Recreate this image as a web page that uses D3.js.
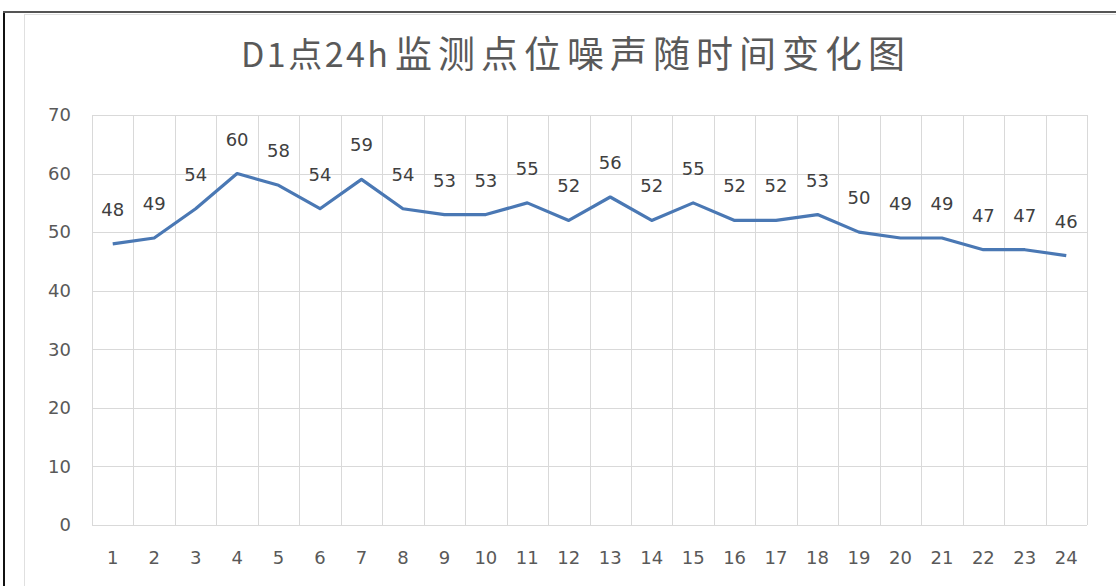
<!DOCTYPE html>
<html><head><meta charset="utf-8">
<script src="https://cdn.jsdelivr.net/npm/d3@7"></script>
<style>body{margin:0;background:#fff;}svg{display:block;}</style>
</head><body>
<svg id="c" width="1116" height="586"></svg>
<script>
const categories = ["1","2","3","4","5","6","7","8","9","10","11","12","13","14","15","16","17","18","19","20","21","22","23","24"];
const values = [48,49,54,60,58,54,59,54,53,53,55,52,56,52,55,52,52,53,50,49,49,47,47,46];
const yTicks = [0,10,20,30,40,50,60,70];
const titleA = "D1点24h";
const titleB = "监测点位噪声随时间变化图";

const svg = d3.select("#c");
const numFont = "DejaVu Sans, Verdana, sans-serif";
// outer frame
svg.append("rect").attr("x",0).attr("y",0).attr("width",1116).attr("height",586).attr("fill","#fff");
svg.append("line").attr("x1",4).attr("x2",4).attr("y1",11).attr("y2",586).attr("stroke","#111").attr("stroke-width",2);
svg.append("line").attr("x1",3).attr("x2",1116).attr("y1",12).attr("y2",12).attr("stroke","#555").attr("stroke-width",2);
// chart area border
svg.append("rect").attr("x",24.5).attr("y",14.5).attr("width",1100).attr("height",600).attr("fill","#fff").attr("stroke","#e0e0e0").attr("stroke-width",1);

const L=92, R=1087, T=115, B=525;
const x = d3.scaleBand().domain(categories).range([L,R]).paddingInner(0).paddingOuter(0);
const y = d3.scaleLinear().domain([0,70]).range([B,T]);

// horizontal grid
svg.append("g").selectAll("line").data(yTicks).join("line")
  .attr("x1",L).attr("x2",R).attr("y1",d=>Math.round(y(d))+0.5).attr("y2",d=>Math.round(y(d))+0.5)
  .attr("stroke","#d9d9d9").attr("stroke-width",1);
// vertical grid at category boundaries
const bounds = categories.map(c=>x(c)).concat([R]);
svg.append("g").selectAll("line").data(bounds).join("line")
  .attr("x1",d=>Math.round(d)+0.5).attr("x2",d=>Math.round(d)+0.5).attr("y1",T).attr("y2",B)
  .attr("stroke","#d9d9d9").attr("stroke-width",1);

// y axis labels
const yAxis = d3.axisLeft(y).tickValues(yTicks).tickSize(0).tickPadding(21);
const gy = svg.append("g").attr("transform",`translate(${L},0)`).call(yAxis);
gy.select(".domain").remove();
gy.selectAll("text").attr("font-family",numFont).attr("font-size",18).attr("fill","#595959");

// x axis labels
const xAxis = d3.axisBottom(x).tickSize(0).tickPadding(26);
const gx = svg.append("g").attr("transform",`translate(0,${B})`).call(xAxis);
gx.select(".domain").remove();
gx.selectAll("text").attr("font-family",numFont).attr("font-size",18).attr("fill","#595959");

// line
const cx = c => x(c)+x.bandwidth()/2;
const line = d3.line().x((d,i)=>cx(categories[i])).y(d=>y(d));
svg.append("path").datum(values).attr("d",line).attr("fill","none")
  .attr("stroke","#4a78b4").attr("stroke-width",3.2).attr("stroke-linejoin","round");

// data labels
svg.append("g").selectAll("text").data(values).join("text")
  .attr("x",(d,i)=>cx(categories[i])).attr("y",d=>y(d)-28)
  .attr("text-anchor","middle")
  .attr("font-family",numFont).attr("font-size",18).attr("fill","#404040")
  .text(d=>d);

// title
const tf = "Noto Sans CJK SC, sans-serif";
svg.append("text").attr("x",241).attr("y",67)
  .attr("font-family",tf).attr("font-size",34).attr("fill","#595959")
  .attr("textLength",147).attr("lengthAdjust","spacing")
  .text(titleA);
svg.append("text").attr("x",395).attr("y",68)
  .attr("font-family",tf).attr("font-size",37).attr("fill","#595959")
  .attr("textLength",510).attr("lengthAdjust","spacing")
  .text(titleB);
</script>
</body></html>
